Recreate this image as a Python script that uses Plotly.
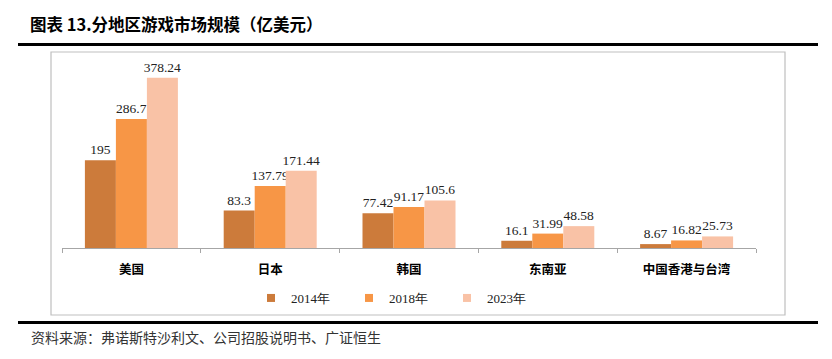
import plotly.graph_objects as go

categories = ["美国", "日本", "韩国", "东南亚", "中国香港与台湾"]
series_names = ["2014年", "2018年", "2023年"]
v2014 = [195, 83.3, 77.42, 16.1, 8.67]
v2018 = [286.7, 137.79, 91.17, 31.99, 16.82]
v2023 = [378.24, 171.44, 105.6, 48.58, 25.73]
labels2014 = ["195", "83.3", "77.42", "16.1", "8.67"]
labels2018 = ["286.7", "137.79", "91.17", "31.99", "16.82"]
labels2023 = ["378.24", "171.44", "105.6", "48.58", "25.73"]
colors = ["#CC7B3B", "#F79646", "#F9C2A6"]

W, H = 832, 359
L, R, T, B = 62, 76, 68, 111
PW, PH = W - L - R, H - T - B

def px(x):
    return (x - L) / PW

def py(y):
    return (H - B - y) / PH

SERIF = "Liberation Serif, Times New Roman, serif"
CJK = "Noto Sans CJK SC, sans-serif"

fig = go.Figure()
for name, vals, labs, col in zip(series_names, [v2014, v2018, v2023],
                                 [labels2014, labels2018, labels2023], colors):
    fig.add_trace(go.Bar(
        x=categories, y=vals, name=name, marker=dict(color=col, line=dict(width=0)),
        text=labs, textposition="outside", cliponaxis=False, constraintext="none",
        textfont=dict(family=SERIF, size=13.5, color="#222222"),
        showlegend=False, hoverinfo="skip",
    ))
    fig.add_trace(go.Scatter(
        x=[None], y=[None], mode="markers", name=name,
        marker=dict(symbol="square", size=8, color=col),
        showlegend=True, hoverinfo="skip",
    ))

shapes = [
    dict(type="rect", xref="paper", yref="paper", x0=px(51), x1=px(785), y0=py(315), y1=py(52),
         line=dict(color="#BFBFBF", width=1.2), fillcolor="rgba(0,0,0,0)", layer="below"),
    dict(type="line", xref="paper", yref="paper", x0=px(18), x1=px(818), y0=py(44.5), y1=py(44.5),
         line=dict(color="#000000", width=3)),
    dict(type="line", xref="paper", yref="paper", x0=px(18), x1=px(818), y0=py(322.5), y1=py(322.5),
         line=dict(color="#000000", width=3)),
]

annotations = [
    dict(text="<b>图表 13.分地区游戏市场规模（亿美元）</b>", xref="paper", yref="paper",
         x=px(28), y=py(24), xanchor="left", yanchor="middle", showarrow=False,
         font=dict(family=CJK, size=16.5, color="#000000")),
    dict(text="资料来源：弗诺斯特沙利文、公司招股说明书、广证恒生", xref="paper", yref="paper",
         x=px(29), y=py(337), xanchor="left", yanchor="middle", showarrow=False,
         font=dict(family=CJK, size=14, color="#333333")),
]

fig.update_layout(
    width=W, height=H,
    margin=dict(l=L, r=R, t=T, b=B, pad=0, autoexpand=False),
    paper_bgcolor="white", plot_bgcolor="white",
    barmode="group", bargap=0.33, bargroupgap=0,
    shapes=shapes, annotations=annotations,
    legend=dict(orientation="h", x=px(398), xanchor="center", y=py(298), yanchor="middle",
                font=dict(family=SERIF, size=13, color="#222222"),
                entrywidth=53, itemwidth=30, bgcolor="rgba(0,0,0,0)"),
    xaxis=dict(showline=True, linecolor="#A6A6A6", linewidth=1, ticks="outside",
               tickson="boundaries", ticklen=4, tickcolor="#A6A6A6",
               ticklabelstandoff=10,
               tickfont=dict(family=CJK, size=12.5, color="#000000", weight="bold"),
               showgrid=False, zeroline=False, fixedrange=True),
    yaxis=dict(range=[0, 400], visible=False, showgrid=False, fixedrange=True),
)

fig.write_html("out.html", config={"displayModeBar": False},
               post_script="document.body.style.margin='0';document.body.style.overflow='hidden';")
